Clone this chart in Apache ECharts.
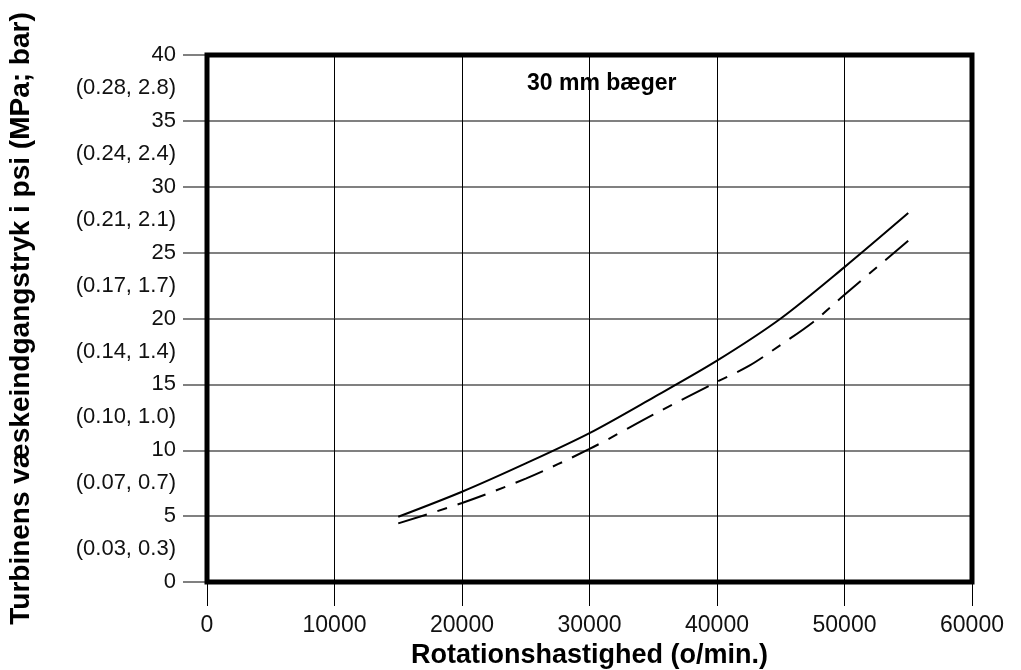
<!DOCTYPE html>
<html>
<head>
<meta charset="utf-8">
<script src="https://cdn.jsdelivr.net/npm/echarts@6/dist/echarts.min.js"></script>
<style>
  html, body { margin: 0; padding: 0; background: #fff; }
  #chart { width: 1021px; height: 670px; }
</style>
</head>
<body>
<div id="chart"></div>
<script>
    'use strict';

    // rotation speed (o/min.) and pressure (psi)
    var speedSolid = [15000, 20000, 25000, 30000, 35000, 40000, 45000, 50000, 55000];
    var psiSolid = [4.95, 6.85, 9.0, 11.3, 14.0, 16.8, 20.0, 23.9, 28.0];

    var speedDashed = [15000, 20000, 25000, 30000, 35000, 40000, 42500, 45000, 47500, 50000, 55000];
    var psiDashed = [4.45, 6.0, 7.85, 10.1, 12.7, 15.2, 16.4, 18.0, 19.7, 21.8, 25.9];

    // the (MPa, bar) labels sitting between the psi ticks
    var midLabels = ['(0.03, 0.3)', '(0.07, 0.7)', '(0.10, 1.0)', '(0.14, 1.4)',
                     '(0.17, 1.7)', '(0.21, 2.1)', '(0.24, 2.4)', '(0.28, 2.8)'];

    var font = 'Liberation Sans, Arial, sans-serif';

    function pairs(xs, ys) {
        return xs.map(function (x, i) { return [x, ys[i]]; });
    }

    var chart = echarts.init(document.getElementById('chart'), null, {renderer: 'canvas'});

    var option = {
        animation: false,
        backgroundColor: '#fff',
        title: {
            text: '30 mm bæger',
            left: 527,
            top: 72,
            padding: 0,
            textStyle: { fontFamily: font, fontSize: 23, fontWeight: 'bold', color: '#000' }
        },
        grid: {
            left: 207,
            right: 49,
            top: 55,
            bottom: 88,
            outerBoundsMode: 'none',
            containLabel: false,
            show: true,
            borderWidth: 5,
            borderColor: '#000',
            z: 5
        },
        xAxis: {
            type: 'value',
            min: 0,
            max: 60000,
            interval: 10000,
            name: 'Rotationshastighed (o/min.)',
            nameLocation: 'middle',
            nameGap: 57,
            nameTextStyle: { fontFamily: font, fontSize: 27, fontWeight: 'bold', color: '#000' },
            axisLine: { show: false },
            axisTick: { show: true, length: 24, lineStyle: { color: '#000', width: 1 } },
            axisLabel: {
                margin: 32, fontFamily: font, fontSize: 23, color: '#111',
                formatter: function (v) { return String(v); }
            },
            splitLine: { show: true, lineStyle: { color: '#000', width: 1 } }
        },
        yAxis: [
            {
                type: 'value',
                min: 0,
                max: 40,
                interval: 5,
                name: 'Turbinens væskeindgangstryk i psi (MPa; bar)',
                nameLocation: 'middle',
                nameGap: 172,
                nameTextStyle: { fontFamily: font, fontSize: 28, fontWeight: 'bold', color: '#000' },
                axisLine: { show: false },
                axisTick: { show: true, length: 24, lineStyle: { color: '#808080', width: 2 } },
                axisLabel: { margin: 31, fontFamily: font, fontSize: 22, color: '#111' },
                splitLine: { show: true, lineStyle: { color: '#808080', width: 2 } }
            },
            {
                type: 'value',
                position: 'left',
                min: 0,
                max: 40,
                interval: 2.5,
                axisLine: { show: false },
                axisTick: { show: false },
                splitLine: { show: false },
                axisLabel: {
                    margin: 31,
                    fontFamily: font,
                    fontSize: 22,
                    color: '#111',
                    formatter: function (v) {
                        if (v % 5 === 0) return '';
                        return midLabels[Math.floor(v / 5)] || '';
                    }
                }
            }
        ],
        series: [
            {
                name: 'solid',
                type: 'line',
                smooth: 0.3,
                symbol: 'none',
                lineStyle: { color: '#000', width: 2 },
                data: pairs(speedSolid, psiSolid),
                z: 10
            },
            {
                name: 'dashed',
                type: 'line',
                smooth: 0.3,
                symbol: 'none',
                lineStyle: { color: '#000', width: 2, type: [30, 11, 10, 11] },
                data: pairs(speedDashed, psiDashed),
                z: 10
            }
        ]
    };

    chart.setOption(option);
</script>
</body>
</html>
